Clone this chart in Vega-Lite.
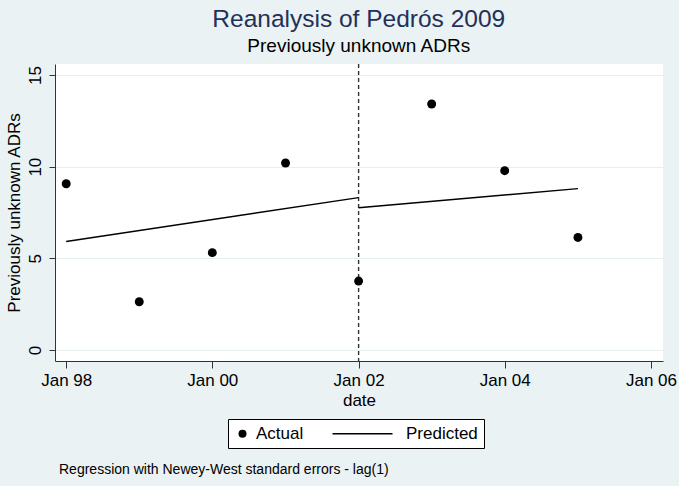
{
  "$schema": "https://vega.github.io/schema/vega-lite/v6.json",
  "background": "#EAF2F3",
  "padding": {"left": 5, "top": 6, "right": 2, "bottom": 12},
  "config": {
    "font": "Liberation Sans",
    "view": {"fill": "white", "stroke": null},
    "concat": {"spacing": 0}
  },
  "title": {
    "text": "Reanalysis of Pedrós 2009",
    "subtitle": "Previously unknown ADRs",
    "anchor": "middle",
    "fontSize": 24.5,
    "fontWeight": "normal",
    "color": "#23305A",
    "subtitleFontSize": 19,
    "subtitleColor": "#000000",
    "subtitlePadding": 5,
    "offset": 6,
    "dx": 18
  },
  "datasets": {
    "actual": [
      {"date": "1998-01-01", "value": 9.07, "series": "Actual"},
      {"date": "1999-01-01", "value": 2.63, "series": "Actual"},
      {"date": "2000-01-01", "value": 5.31, "series": "Actual"},
      {"date": "2001-01-01", "value": 10.2, "series": "Actual"},
      {"date": "2002-01-01", "value": 3.76, "series": "Actual"},
      {"date": "2003-01-01", "value": 13.42, "series": "Actual"},
      {"date": "2004-01-01", "value": 9.78, "series": "Actual"},
      {"date": "2005-01-01", "value": 6.14, "series": "Actual"}
    ],
    "predicted": [
      {"date": "1998-01-01", "value": 5.92, "segment": "pre"},
      {"date": "2002-01-01", "value": 8.31, "segment": "pre"},
      {"date": "2002-01-01", "value": 7.76, "segment": "post"},
      {"date": "2005-01-01", "value": 8.8, "segment": "post"}
    ],
    "intervention": [
      {"date": "2002-01-01"}
    ]
  },
  "vconcat": [
    {
      "width": 608,
      "height": 297,
      "title": {
        "text": "Regression with Newey-West standard errors - lag(1)",
        "orient": "bottom",
        "anchor": "start",
        "frame": "group",
        "fontSize": 14,
        "fontWeight": "normal",
        "color": "#000000",
        "offset": 55,
        "dx": 4
      },
      "layer": [
        {
          "data": {"name": "intervention"},
          "mark": {"type": "rule", "strokeDash": [4, 3], "color": "#333333", "strokeWidth": 1.4},
          "encoding": {
            "x": {
              "field": "date", "type": "temporal", "title": "date",
              "scale": {"type": "utc", "domain": [{"year": 1997, "month": 11, "date": 6, "utc": true}, {"year": 2006, "month": 3, "date": 2, "utc": true}]},
              "axis": {
                "values": [{"year": 1998, "month": 1, "date": 1, "utc": true}, {"year": 2000, "month": 1, "date": 1, "utc": true}, {"year": 2002, "month": 1, "date": 1, "utc": true}, {"year": 2004, "month": 1, "date": 1, "utc": true}, {"year": 2006, "month": 1, "date": 1, "utc": true}],
                "format": "%b %y", "grid": false, "tickSize": 7, "labelPadding": 4, "labelFontSize": 17, "titleFontSize": 17,
                "titleFontWeight": "normal", "titlePadding": 4, "domainColor": "#333333", "tickColor": "#333333",
                "labelColor": "#000000", "titleColor": "#000000", "labelFlush": false
              }
            }
          }
        },
        {
          "data": {"name": "predicted"},
          "mark": {"type": "line", "color": "#000000", "strokeWidth": 1.4},
          "encoding": {
            "x": {"field": "date", "type": "temporal", "title": "date"},
            "y": {"field": "value", "type": "quantitative", "title": "Previously unknown ADRs"},
            "detail": {"field": "segment"}
          }
        },
        {
          "data": {"name": "actual"},
          "mark": {"type": "point", "filled": true, "color": "#000000", "size": 80, "opacity": 1},
          "encoding": {
            "x": {"field": "date", "type": "temporal", "title": "date"},
            "y": {
              "field": "value", "type": "quantitative", "title": "Previously unknown ADRs",
              "scale": {"domain": [-0.6, 15.6], "nice": false, "zero": false},
              "axis": {
                "values": [0, 5, 10, 15], "labelAngle": 270, "labelFontSize": 17, "titleFontSize": 17,
                "titleFontWeight": "normal", "tickSize": 6, "gridColor": "#E6EEF0", "domainColor": "#333333",
                "tickColor": "#333333", "labelColor": "#000000", "titleColor": "#000000", "labelPadding": 5, "titlePadding": 3
              }
            },
            "shape": {
              "field": "series", "type": "nominal",
              "scale": {"domain": ["Actual", "Predicted"], "range": ["circle", "M-15,-0.17H0V0.17H-15Z"]},
              "legend": {
                "title": null, "orient": "none", "legendX": 173, "legendY": 355, "direction": "horizontal",
                "strokeColor": "#000000", "fillColor": "#FFFFFF", "padding": 6, "symbolSize": 64,
                "labelFontSize": 17, "labelColor": "#000000", "columnPadding": 25, "labelOffset": 5,
                "symbolFillColor": "#000000"
              }
            }
          }
        }
      ]
    }
  ]
}
